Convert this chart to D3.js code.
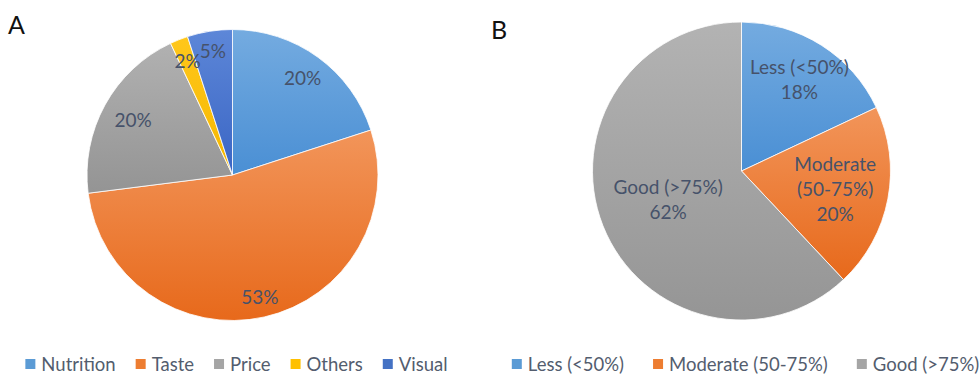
<!DOCTYPE html>
<html>
<head>
<meta charset="utf-8">
<script src="https://cdn.jsdelivr.net/npm/d3@7/dist/d3.min.js"></script>
<style>
  html, body { margin: 0; padding: 0; background: #ffffff; }
  svg { display: block; }
  text { font-family: Lato, "Open Sans", sans-serif; }
</style>
</head>
<body>
<svg id="chart" width="980" height="374"></svg>
<script>
// Panel A: what drives food choice
const factorCategories = ["Nutrition", "Taste", "Price", "Others", "Visual"];
const factorValues = [20, 53, 20, 2, 5];

// Panel B: knowledge score groups
const scoreCategories = ["Less (<50%)", "Moderate (50-75%)", "Good (>75%)"];
const scoreValues = [18, 20, 62];
const scoreLabelLines = [["Less (<50%)"], ["Moderate", "(50-75%)"], ["Good (>75%)"]];

// Slice palettes (top / bottom of the vertical gradient)
const factorColors = [["#74abe0", "#4a8fd4"], ["#f2955a", "#e7691b"], ["#b1b1b1", "#949494"], ["#ffc71a", "#f5b700"], ["#5d87d8", "#3a65c4"]];
const scoreColors = [["#74abe0", "#4a8fd4"], ["#f2955a", "#e7691b"], ["#b3b3b3", "#959595"]];
const legendColors = ["#5b9bd5", "#ed7d31", "#a5a5a5", "#ffc000", "#4472c4"];

// Label distance from centre, as a fraction of the radius
const factorLabelRadius = [0.82, 0.86, 0.78, 0.84, 0.86];
const scoreLabelRadius = [0.725, 0.64, 0.53];

const svg = d3.select("#chart");
const defs = svg.append("defs");
const labelColor = "#46526a";
const legendTextColor = "#535d6e";

function drawPie(opts) {
  const { id, cx, cy, r, cats, vals, colors, labelRadius, labelLines, legendY, legendCols, legendGap, title, titleX, titleY } = opts;
  const total = d3.sum(vals);
  const pie = d3.pie().sort(null).value(d => d);
  const arcs = pie(vals);
  const arc = d3.arc().innerRadius(0).outerRadius(r);

  colors.forEach((c, i) => {
    const g = defs.append("linearGradient")
      .attr("id", `${id}-grad-${i}`)
      .attr("x1", 0).attr("y1", 0).attr("x2", 0).attr("y2", 1);
    g.append("stop").attr("offset", "0%").attr("stop-color", c[0]);
    g.append("stop").attr("offset", "100%").attr("stop-color", c[1]);
  });

  const g = svg.append("g").attr("transform", `translate(${cx},${cy})`);
  g.selectAll("path")
    .data(arcs)
    .join("path")
    .attr("d", arc)
    .attr("fill", (d, i) => `url(#${id}-grad-${i})`)
    .attr("stroke", "#ffffff")
    .attr("stroke-width", 0.8);

  const lineH = 25;
  arcs.forEach((d, i) => {
    const a = (d.startAngle + d.endAngle) / 2;
    const rr = r * labelRadius[i];
    const x = Math.sin(a) * rr;
    const y = -Math.cos(a) * rr;
    const pct = Math.round(d.value / total * 100) + "%";
    const lines = labelLines ? labelLines[i].concat([pct]) : [pct];
    const t = g.append("text")
      .attr("text-anchor", "middle")
      .attr("fill", labelColor)
      .attr("font-size", 19);
    lines.forEach((ln, k) => {
      t.append("tspan")
        .attr("x", x)
        .attr("y", y + (k - (lines.length - 1) / 2) * lineH)
        .attr("dy", "0.36em")
        .text(ln);
    });
  });

  svg.append("text")
    .attr("x", titleX).attr("y", titleY)
    .attr("font-size", 25)
    .attr("font-family", "Liberation Sans, Arial, sans-serif")
    .attr("fill", "#111111")
    .text(title);

  // Legend: centred below the pie
  const lg = svg.append("g");
  const items = lg.selectAll("g.item").data(cats).join("g").attr("class", "item");
  items.append("rect").attr("width", 10).attr("height", 10).attr("y", -5)
    .attr("fill", (d, i) => legendCols[i]);
  const texts = items.append("text")
    .attr("x", 16).attr("dy", "0.36em")
    .attr("font-size", 18.5)
    .attr("fill", legendTextColor)
    .text(d => d);
  const widths = [];
  texts.each(function () { widths.push(16 + this.getComputedTextLength()); });
  const totalW = d3.sum(widths) + legendGap * (widths.length - 1);
  let x0 = cx - totalW / 2 + 4;
  items.attr("transform", (d, i) => {
    const tx = x0;
    x0 += widths[i] + legendGap;
    return `translate(${tx},${legendY})`;
  });
}

drawPie({
  id: "a", cx: 232.5, cy: 175, r: 145.5,
  cats: factorCategories, vals: factorValues, colors: factorColors,
  labelRadius: factorLabelRadius, labelLines: null,
  legendY: 364, legendCols: legendColors, legendGap: 20,
  title: "A", titleX: 8, titleY: 34
});

drawPie({
  id: "b", cx: 741.5, cy: 171, r: 149,
  cats: scoreCategories, vals: scoreValues, colors: scoreColors,
  labelRadius: scoreLabelRadius, labelLines: scoreLabelLines,
  legendY: 364, legendCols: legendColors.slice(0, 3), legendGap: 29,
  title: "B", titleX: 491, titleY: 39
});
</script>
</body>
</html>
